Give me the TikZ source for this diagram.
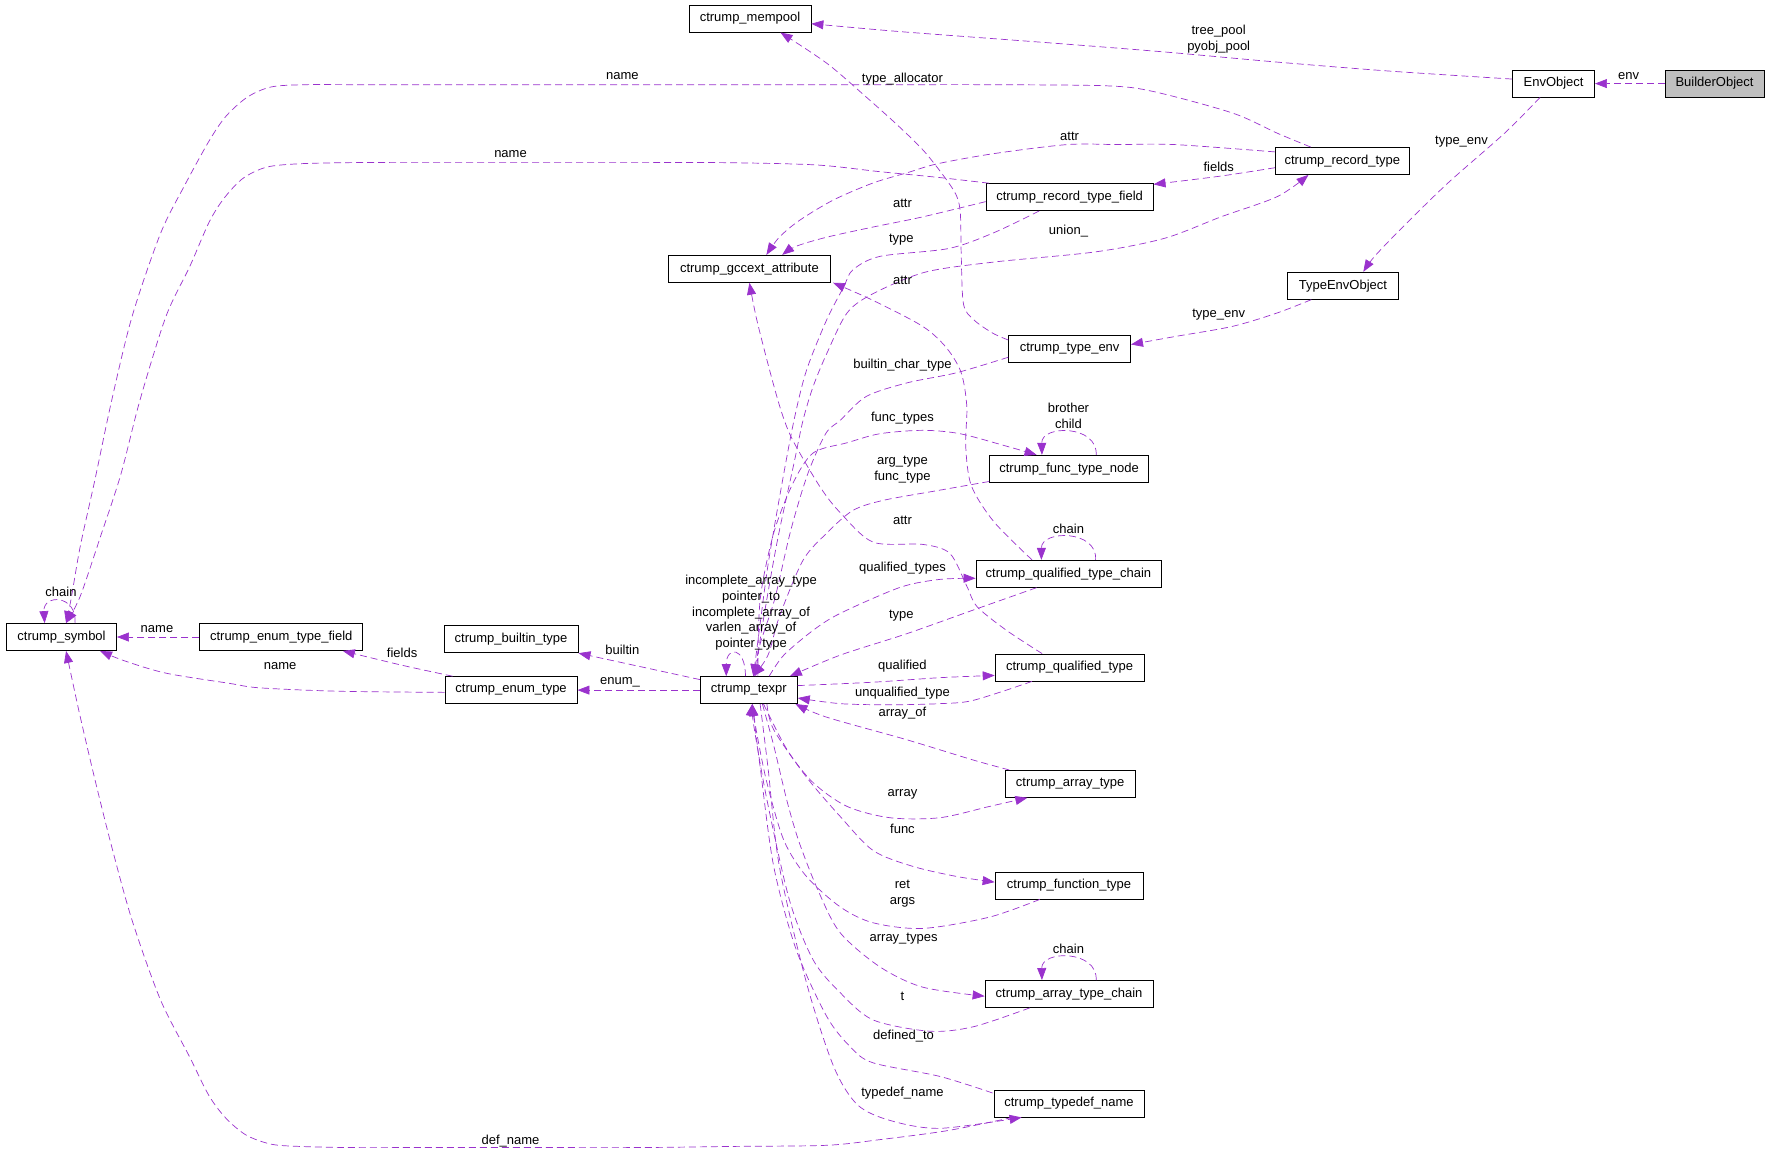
\documentclass[tikz,border=0pt]{standalone}
\usepackage{fontspec}
\setmainfont{Liberation Sans}
\usepackage{tikz}
\usetikzlibrary{arrows.meta,calc}
\definecolor{edgePurple}{RGB}{154,50,205}
\definecolor{mainFill}{RGB}{191,191,191}

\begin{document}
\begin{tikzpicture}[x=1.1295pt, y=-1.1295pt,
  every node/.style={font=\fontsize{13}{15.8}\selectfont},
  cls/.style={draw=black, line width=0.8pt, minimum height=27pt, inner sep=0pt},
  rel/.style={draw=edgePurple, line width=0.7pt, dash pattern=on 7pt off 4pt,
    -{Triangle[length=12pt,width=9pt]}},
  lbl/.style={inner sep=0pt, align=center}]
\useasboundingbox (0,0) rectangle (1568,1021);

% Classes
\node[cls, minimum width=122pt] (mempool) at (664,16.5) {ctrump\_mempool};
\node[cls, minimum width=82pt] (envobj) at (1375.5,74) {EnvObject};
\node[cls, minimum width=99pt, fill=mainFill] (builder) at (1518,74) {BuilderObject};
\node[cls, minimum width=134pt] (recordtype) at (1188.5,142.5) {ctrump\_record\_type};
\node[cls, minimum width=167pt] (rtfield) at (947,174.5) {ctrump\_record\_type\_field};
\node[cls, minimum width=162pt] (gccext) at (663.5,238) {ctrump\_gccext\_attribute};
\node[cls, minimum width=111pt] (typeenvobj) at (1189,253) {TypeEnvObject};
\node[cls, minimum width=122pt] (typeenv) at (947,309) {ctrump\_type\_env};
\node[cls, minimum width=159pt] (ftn) at (946.5,415) {ctrump\_func\_type\_node};
\node[cls, minimum width=185pt] (qtc) at (946,508) {ctrump\_qualified\_type\_chain};
\node[cls, minimum width=110pt] (symbol) at (54.5,564) {ctrump\_symbol};
\node[cls, minimum width=163pt] (enumfield) at (249,564) {ctrump\_enum\_type\_field};
\node[cls, minimum width=134pt] (builtin) at (452.5,566) {ctrump\_builtin\_type};
\node[cls, minimum width=132pt] (enumtype) at (452.5,611) {ctrump\_enum\_type};
\node[cls, minimum width=97pt] (texpr) at (663,611) {ctrump\_texpr};
\node[cls, minimum width=149pt] (qt) at (947,591) {ctrump\_qualified\_type};
\node[cls, minimum width=130pt] (arraytype) at (947.5,694) {ctrump\_array\_type};
\node[cls, minimum width=148pt] (functype) at (946.5,784) {ctrump\_function\_type};
\node[cls, minimum width=168pt] (atc) at (946.5,880) {ctrump\_array\_type\_chain};
\node[cls, minimum width=150pt] (typedef) at (946.5,977) {ctrump\_typedef\_name};

% Upper right
\draw[rel] (builder.west) -- (envobj.east);
\draw[rel] plot[smooth] coordinates {($(envobj.west)+(0,-4)$) (1231,63) (1131,55)
  (1031,46) (930,38) (797,28) ($(mempool.east)+(0,4.5)$)};
\draw[rel] plot[smooth] coordinates {($(envobj.south)+(-12,0)$) (1332,118) (1282,162)
  (1242,201) (1217,227) ($(typeenvobj.north)+(18,0)$)};
\draw[rel] plot[smooth] coordinates {($(typeenvobj.south)+(-28,0)$) (1131,277) (1091,289)
  (1040,298) ($(typeenv.east)+(0,-4)$)};
\draw[rel] plot[smooth] coordinates {($(typeenv.west)+(0,-8)$) (879,295) (862,283) (853,269)
  (851,224) (850,186) (844,168) (820,136) (797,113) (767,86) (732,56)
  ($(mempool.south)+(27,0)$)};

% Record types
\draw[rel] plot[smooth] coordinates {($(recordtype.north)+(-28,0)$) (1131,118) (1091,100)
  (1021,81) (980,76) (880,75) (779,75) (650,75) (520,75) (400,75) (320,75) (270,75)
  (240,77) (219,86) (200,103) (185,125) (163,165) (142,207) (117,280) (99,354)
  (84,425) (71,484) (63,530) ($(symbol.north)+(4,0)$)};
\draw[rel] plot[smooth] coordinates {($(rtfield.north west)+(3,0)$) (830,157) (779,152)
  (722,146) (640,144) (559,144) (460,144) (370,144) (310,144) (265,145) (236,148)
  (215,158) (198,176) (185,197) (168,236) (147,280) (124,354) (107,420) (89,475)
  (71,528) ($(symbol.north)+(4,0)$)};
\draw[rel] plot[smooth] coordinates {($(recordtype.west)+(0,6)$) (1080,156)
  ($(rtfield.north east)+(0,1)$)};
\draw[rel] plot[smooth] coordinates {($(recordtype.west)+(0,-8)$) (1040,128) (990,128)
  (945,128) (880,136) (830,145) (803,153) (773,162) (738,177) (708,195) (690,210)
  ($(gccext.north)+(15,0)$)};
\draw[rel] plot[smooth] coordinates {($(rtfield.west)+(0,4)$) (817,192) (773,201) (732,210)
  (705,218) ($(gccext.north)+(29,0)$)};
\draw[rel] plot[smooth] coordinates {($(texpr.north)+(6,0)$) (674,560) (688,480) (703,410)
  (711,372) (720,342) (732,313) (750,277) (773,260) (819,241) (880,232) (970,223)
  (1031,211) (1081,192) (1131,174) ($(recordtype.south)+(-30,0)$)};
\draw[rel] plot[smooth] coordinates {($(rtfield.south)+(-27,0)$) (880,206) (840,220)
  (779,227) (755,239) (747,254) (732,283) (714,328) (703,372) (692,430) (680,500)
  (672,560) ($(texpr.north)+(4,0)$)};

% Attributes and chains
\draw[rel] plot[smooth] coordinates {($(qtc.north west)+(50,0)$) (880,462) (860,430)
  (855,395) (856,360) (851,330) (838,308) (817,289) (773,266)
  ($(gccext.south east)+(2,0)$)};
\draw[rel] plot[smooth] coordinates {($(qt.north west)+(42,0)$) (891,558) (865,537)
  (856,519) (841,490) (817,482) (773,480) (744,454) (726,431) (702,390) (692,365)
  (682,330) (670,283) (gccext.south)};
\draw[rel] ($(qtc.north)+(24,0)$) .. controls (972,469) and (922,469) .. ($(qtc.north)+(-24,0)$);
\draw[rel] ($(ftn.north)+(24,0)$) .. controls (972,376) and (922,376) .. ($(ftn.north)+(-24,0)$);
\draw[rel] ($(atc.north)+(24,0)$) .. controls (972,841) and (922,841) .. ($(atc.north)+(-24,0)$);
\draw[rel] ($(symbol.north)+(12,0)$) .. controls (68,526) and (38,526) .. ($(symbol.north)+(-15,0)$);
\draw[rel] ($(texpr.north)+(-3,0)$) .. controls (660,572) and (643,572) .. ($(texpr.north)+(-20,0)$);

% Into and out of ctrump_texpr, upper half
\draw[rel] plot[smooth] coordinates {($(typeenv.south west)+(0,-5)$) (847,330) (803,339)
  (767,351) (744,372) (731,384) (715,420) (700,470) (686,530) (673,570)
  ($(texpr.north)+(4,0)$)};
\draw[rel] plot[smooth] coordinates {($(texpr.north)+(8,0)$) (673,531) (685,472) (702,428)
  (720,401) (750,392) (779,384) (817,381) (850,384) (891,395)
  ($(ftn.north west)+(42,0)$)};
\draw[rel] plot[smooth] coordinates {($(ftn.south west)+(0,-1)$) (832,434) (782,443)
  (755,452) (732,472) (711,496) (690,546) (680,580) ($(texpr.north)+(4,0)$)};
\draw[rel] plot[smooth] coordinates {($(qtc.south west)+(54,0)$) (862,540) (803,561)
  (744,580) ($(texpr.north east)+(-7,0)$)};
\draw[rel] plot[smooth] coordinates {($(texpr.north)+(18,0)$) (694,580) (720,558) (744,543)
  (797,520) (832,513) ($(qtc.west)+(0,4)$)};
\draw[rel] plot[smooth] coordinates {($(texpr.east)+(0,-4)$) (773,604) (832,600)
  ($(qt.west)+(0,7)$)};
\draw[rel] plot[smooth] coordinates {($(qt.south west)+(33,0)$) (862,620) (832,623)
  (788,624) (744,623) ($(texpr.east)+(0,7)$)};

% Left side
\draw[rel] (enumfield.west) -- (symbol.east);
\draw[rel] plot[smooth] coordinates {($(enumtype.west)+(0,2)$) (300,612) (230,609)
  (203,605) (147,596) (110,585) ($(symbol.south east)+(-15,0)$)};
\draw[rel] plot[smooth] coordinates {($(enumtype.north west)+(7,0)$) (356,589)
  ($(enumfield.south east)+(-18,0)$)};
\draw[rel] (texpr.west) -- (enumtype.east);
\draw[rel] ($(texpr.north west)+(0,3)$) -- (builtin.south east);

% Into and out of ctrump_texpr, lower half
\draw[rel] plot[smooth] coordinates {($(arraytype.north west)+(4,0)$) (862,673) (803,655)
  (732,635) ($(texpr.south east)+(-2,0)$)};
\draw[rel] plot[smooth] coordinates {($(texpr.south)+(13,0)$) (697,664) (720,693) (750,714)
  (788,724) (832,724) (876,714) ($(arraytype.south west)+(20,0)$)};
\draw[rel] plot[smooth] coordinates {($(texpr.south)+(16,0)$) (685,646) (714,688) (744,723)
  (773,753) (808,767) (847,776) ($(functype.west)+(0,-3)$)};
\draw[rel] plot[smooth] coordinates {($(functype.south west)+(40,0)$) (876,812) (817,822)
  (773,817) (744,803) (714,776) (694,744) (679,693) (670,649) ($(texpr.south)+(3,0)$)};
\draw[rel] plot[smooth] coordinates {($(texpr.south)+(12,0)$) (685,660) (697,710) (708,747)
  (725,790) (744,826) (779,856) (817,874) ($(atc.west)+(0,2)$)};
\draw[rel] plot[smooth] coordinates {($(atc.south west)+(40,0)$) (862,909) (823,913)
  (773,903) (744,879) (720,850) (699,797) (679,708) (667,640) ($(texpr.south)+(3,0)$)};
\draw[rel] plot[smooth] coordinates {($(typedef.north west)+(-1,3)$) (832,953) (773,941)
  (753,927) (732,900) (705,841) (685,767) (673,679) ($(texpr.south)+(3,0)$)};
\draw[rel] plot[smooth] coordinates {($(texpr.south)+(10,0)$) (680,680) (690,767) (714,870)
  (738,944) (759,978) (788,992) (832,999) ($(typedef.south)+(-42,0)$)};
\draw[rel] plot[smooth] coordinates {($(typedef.south)+(-50,0)$) (839,1001) (779,1009)
  (732,1014) (650,1015) (567,1016) (470,1016) (380,1016) (310,1016) (265,1015)
  (240,1013) (218,1005) (200,990) (185,970) (168,936) (142,885) (117,815) (99,750)
  (84,690) (70,630) ($(symbol.south)+(4,0)$)};

% Labels
\node[lbl] (lEnv) at (1442,67) {env};
\node[lbl] (lPool) at (1079,35) {tree\_pool\\pyobj\_pool};
\node[lbl] (lTypeEnvA) at (1294,125) {type\_env};
\node[lbl] (lTypeEnvB) at (1079,279) {type\_env};
\node[lbl] (lAlloc) at (799,70) {type\_allocator};
\node[lbl] (lNameRec) at (551,67) {name};
\node[lbl] (lNameFld) at (452,136) {name};
\node[lbl] (lAttrRec) at (947,121) {attr};
\node[lbl] (lFields) at (1079,148) {fields};
\node[lbl] (lAttrFld) at (799,180) {attr};
\node[lbl] (lType) at (798,212) {type};
\node[lbl] (lUnion) at (946,205) {union\_};
\node[lbl] (lAttrQtc) at (799,248) {attr};
\node[lbl] (lBuiltinChar) at (799,323) {builtin\_char\_type};
\node[lbl] (lBrother) at (946,368) {brother\\child};
\node[lbl] (lFuncTypes) at (799,370) {func\_types};
\node[lbl] (lArgType) at (799,416) {arg\_type\\func\_type};
\node[lbl] (lAttrQt) at (799,461) {attr};
\node[lbl] (lChainQtc) at (946,468) {chain};
\node[lbl] (lQualTypes) at (799,503) {qualified\_types};
\node[lbl] (lChainSym) at (54,524) {chain};
\node[lbl] (lSelf) at (665,542.5) {incomplete\_array\_type\\pointer\_to\\incomplete\_array\_of\\varlen\_array\_of\\pointer\_type};
\node[lbl] (lTypeQtc) at (798,545) {type};
\node[lbl] (lNameEnum) at (139,557) {name};
\node[lbl] (lBuiltin) at (551,575) {builtin};
\node[lbl] (lFieldsEnum) at (356,578) {fields};
\node[lbl] (lQualified) at (799,590) {qualified};
\node[lbl] (lNameEnumType) at (248,590) {name};
\node[lbl] (lEnum) at (549,604) {enum\_};
\node[lbl] (lUnqual) at (799,614) {unqualified\_type};
\node[lbl] (lArrayOf) at (799,631) {array\_of};
\node[lbl] (lArray) at (799,703) {array};
\node[lbl] (lFunc) at (799,734) {func};
\node[lbl] (lRetArgs) at (799,791) {ret\\args};
\node[lbl] (lArrayTypes) at (800,831) {array\_types};
\node[lbl] (lChainAtc) at (946,840) {chain};
\node[lbl] (lT) at (799,882) {t};
\node[lbl] (lDefinedTo) at (800,917) {defined\_to};
\node[lbl] (lTypedefName) at (799,968) {typedef\_name};
\node[lbl] (lDefName) at (452,1010) {def\_name};

\end{tikzpicture}
\end{document}
